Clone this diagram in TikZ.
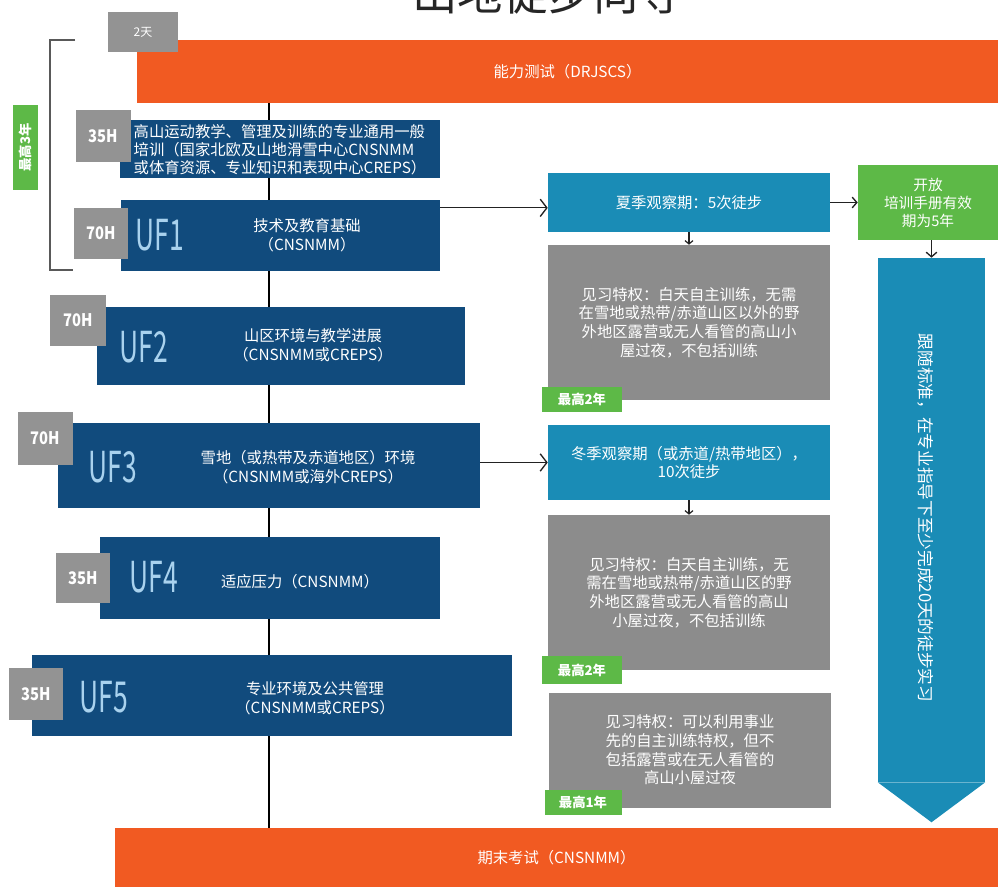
\documentclass[tikz,border=0pt]{standalone}
\usepackage{fontspec}
\usepackage{graphicx}
\setmainfont{Noto Sans CJK SC}
\usetikzlibrary{arrows.meta, backgrounds}
\definecolor{examorange}{HTML}{F15A22}
\definecolor{unitblue}{HTML}{114B7D}
\definecolor{phaseteal}{HTML}{1A8CB6}
\definecolor{privgray}{HTML}{8C8C8C}
\definecolor{hourgray}{HTML}{939393}
\definecolor{limitgreen}{HTML}{5DB947}
\definecolor{uflight}{HTML}{A9D2EE}
\definecolor{spinegray}{HTML}{222222}
\tikzset{
  hourbox/.style={fill=hourgray, text=white, inner sep=0pt, font=\bfseries\fontsize{13}{13}\selectfont},
  unitbox/.style={fill=unitblue, text=white, inner sep=0pt, align=center, font=\fontsize{11.5}{13.5}\selectfont},
  unitname/.style={text=uflight, inner sep=0pt, xscale=0.62, font=\fontsize{32}{32}\selectfont},
  unittext/.style={text=white, inner sep=0pt, align=center, font=\fontsize{11.5}{14}\selectfont},
  phasebox/.style={fill=phaseteal, text=white, inner sep=0pt, align=center, font=\fontsize{11.5}{14}\selectfont},
  privbox/.style={fill=privgray, text=white, inner sep=0pt, align=center, font=\fontsize{11.5}{14}\selectfont},
  limitbox/.style={fill=limitgreen, text=white, inner sep=0pt, font=\bfseries\fontsize{10}{10}\selectfont},
  exambar/.style={fill=examorange, text=white, inner sep=0pt, font=\fontsize{11.5}{11.5}\selectfont},
  flowarrow/.style={-{Straight Barb[length=5pt, width=13pt]}, line width=1pt, spinegray},
  linkarrow/.style={-{Straight Barb[length=3.5pt, width=8pt]}, line width=1pt, spinegray},
  droparrow/.style={-{Straight Barb[length=2.5pt, width=6pt]}, line width=0.9pt, spinegray},
  spine/.style={line width=1.4pt, black},
  bracketline/.style={line width=2pt, black!65},
}
\begin{document}
\begin{tikzpicture}[x=0.75pt, y=-0.75pt]
  \useasboundingbox (0,0) rectangle (998,887);
  \node[font=\fontsize{34}{34}\selectfont, text=black!85] (title) at (548,-7) {山地徒步向导};

  % entry test and final exam
  \node[exambar, minimum width=645.75pt, minimum height=47.25pt] (aptitude) at (567.5,71.5) {能力测试（DRJSCS）};
  \node[hourbox, font=\fontsize{9}{9}\selectfont, minimum width=52.5pt, minimum height=30pt] (testdays) at (143,32) {2天};
  \node[exambar, minimum width=662.25pt, minimum height=44.25pt] (exam) at (556.5,857.5) {期末考试（CNSNMM）};

  % left bracket
  \draw[bracketline] (75,40) -- (50,40) -- (50,270) -- (73,270);
  \node[limitbox, rotate=90, minimum width=63.75pt, minimum height=18.75pt] (maxthree) at (25.5,147.5) {最高3年};

  % training units
  \node[unitbox, align=left, minimum width=240pt, minimum height=43.5pt] (general) at (280,149.5)
    {高山运动教学、管理及训练的专业通用一般\\培训（国家北欧及山地滑雪中心CNSNMM\\或体育资源、专业知识和表现中心CREPS）};
  \node[unitbox, minimum width=239.25pt, minimum height=53.25pt] (uf1) at (280.5,235.5) {};
  \node[unitbox, minimum width=276pt, minimum height=58.5pt] (uf2) at (281,346) {};
  \node[unitbox, minimum width=316.5pt, minimum height=63.75pt] (uf3) at (269,465.5) {};
  \node[unitbox, minimum width=255pt, minimum height=61.5pt] (uf4) at (269.5,578) {};
  \node[unitbox, minimum width=360pt, minimum height=60.75pt] (uf5) at (272,695.5) {};

  \node[unitname] (uf1name) at (160,235) {UF1};
  \node[unitname] (uf2name) at (144,347) {UF2};
  \node[unitname] (uf3name) at (113,467) {UF3};
  \node[unitname] (uf4name) at (154,577) {UF4};
  \node[unitname] (uf5name) at (104,697) {UF5};

  \node[unittext] (uf1text) at (307,235) {技术及教育基础\\（CNSNMM）};
  \node[unittext] (uf2text) at (313,345) {山区环境与教学进展\\（CNSNMM或CREPS）};
  \node[unittext] (uf3text) at (308,467) {雪地（或热带及赤道地区）环境\\（CNSNMM或海外CREPS）};
  \node[unittext] (uf4text) at (300,582) {适应压力（CNSNMM）};
  \node[unittext] (uf5text) at (315,698) {专业环境及公共管理\\（CNSNMM或CREPS）};

  \node[hourbox, minimum width=41.25pt, minimum height=39pt] (generalhours) at (103.5,136) {\scalebox{0.85}[1]{35H}};
  \node[hourbox, minimum width=40.5pt, minimum height=38.25pt] (uf1hours) at (101,233.5) {\scalebox{0.85}[1]{70H}};
  \node[hourbox, minimum width=42pt, minimum height=38.25pt] (uf2hours) at (78,320.5) {\scalebox{0.85}[1]{70H}};
  \node[hourbox, minimum width=41.25pt, minimum height=39.75pt] (uf3hours) at (45.5,438.5) {\scalebox{0.85}[1]{70H}};
  \node[hourbox, minimum width=40.5pt, minimum height=37.5pt] (uf4hours) at (83,578) {\scalebox{0.85}[1]{35H}};
  \node[hourbox, minimum width=40.5pt, minimum height=39pt] (uf5hours) at (36,694) {\scalebox{0.85}[1]{35H}};

  % observation periods
  \node[phasebox, minimum width=211.5pt, minimum height=44.25pt] (summer) at (689,202.5) {夏季观察期：5次徒步};
  \node[privbox, minimum width=211.5pt, minimum height=116.25pt] (priv1) at (689,322.5)
    {见习特权：白天自主训练，无需\\在雪地或热带/赤道山区以外的野\\外地区露营或无人看管的高山小\\屋过夜，不包括训练};
  \node[limitbox, minimum width=60pt, minimum height=18.75pt] (limit1) at (582,399.5) {最高2年};
  \node[phasebox, minimum width=211.5pt, minimum height=56.25pt] (winter) at (689,462.5) {冬季观察期（或赤道/热带地区），\\10次徒步};
  \node[privbox, minimum width=211.5pt, minimum height=116.25pt] (priv2) at (689,592.5)
    {见习特权：白天自主训练，无\\需在雪地或热带/赤道山区的野\\外地区露营或无人看管的高山\\小屋过夜，不包括训练};
  \node[limitbox, minimum width=60pt, minimum height=21pt] (limit2) at (582,670) {最高2年};
  \node[privbox, minimum width=211.5pt, minimum height=86.25pt] (priv3) at (690,750)
    {见习特权：可以利用事业\\先的自主训练特权，但不\\包括露营或在无人看管的\\高山小屋过夜};
  \node[limitbox, minimum width=57.75pt, minimum height=18.75pt] (limit3) at (583,802.5) {最高1年};

  % booklet and internship banner
  \node[limitbox, font=\fontsize{11}{13.5}\selectfont, align=center, minimum width=105pt, minimum height=56.25pt] (booklet) at (928,202.5)
    {开放\\培训手册有效\\期为5年};
  \node[fill=phaseteal, inner sep=0pt, minimum width=80.25pt, minimum height=393pt] (banner) at (931.5,520) {};
  \fill[phaseteal] (banner.south west) -- ([yshift=-30pt]banner.south) -- (banner.south east) -- cycle;
  \node[text=white, rotate=-90, font=\fontsize{12.5}{12.5}\selectfont] (bannertext) at (926,518) {跟随标准，在专业指导下至少完成20天的徒步实习};

  % connectors
  \coordinate (spinex) at (269,0);
  \begin{scope}[on background layer]
    \draw[spine] (aptitude.south -| spinex) -- (exam.north -| spinex);
  \end{scope}
  \draw[flowarrow] ([yshift=-4pt]summer.west -| uf1.east) -- ([yshift=-4pt]summer.west);
  \draw[flowarrow] (winter.west -| uf3.east) -- (winter.west);
  \draw[linkarrow] (summer.east) -- (booklet.west);
  \draw[droparrow] (summer.south) -- (priv1.north);
  \draw[droparrow] (winter.south) -- (priv2.north);
  \draw[linkarrow] (banner.north |- booklet.south) -- (banner.north);
\end{tikzpicture}
\end{document}
